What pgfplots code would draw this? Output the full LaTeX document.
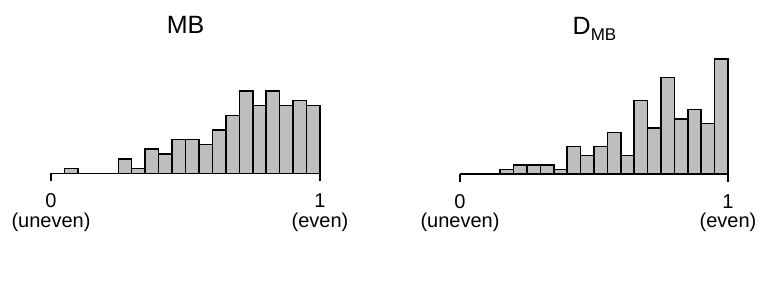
\documentclass[border=0pt]{standalone}
\usepackage{fontspec}
\setmainfont{Liberation Sans}
\usepackage{pgfplots}
\pgfplotsset{compat=1.18}
\definecolor{rgray}{RGB}{190,190,190}
\pgfplotsset{hist/.style={
  scale only axis, xmin=0, xmax=1, ymin=0, enlargelimits=false, clip=false,
  axis x line=bottom, axis y line=none,
  x axis line style={-, line width=1.6bp, black},
  xtick={0,1}, tick align=outside, major tick length=8bp,
  xtick style={line width=1.6bp, black},
  xticklabel style={align=center, font=\fontsize{20bp}{19.5bp}\selectfont, text=black, yshift=-9bp},
  xticklabels={{0\\(uneven)},{1\\(even)}},
  /pgf/number format/assume math mode=true,
}}
\begin{document}
\begin{tikzpicture}
\path[use as bounding box] (0,0) rectangle (768bp,288bp);
\begin{axis}[hist, at={(51bp,114.5bp)}, anchor=south west, width=269bp, height=97bp, ymax=20]
\addplot[ybar interval, fill=rgray, draw=black, line width=1.5bp] coordinates {
(0.00,0) (0.05,1) (0.10,0) (0.15,0) (0.20,0) (0.25,3) (0.30,1) (0.35,5) (0.40,4) (0.45,7)
(0.50,7) (0.55,6) (0.60,9) (0.65,12) (0.70,17) (0.75,14) (0.80,17) (0.85,14) (0.90,15) (0.95,14) (1.00,14)};
\end{axis}
\begin{axis}[hist, at={(460bp,114bp)}, anchor=south west, width=268bp, height=119.6bp, ymax=26]
\addplot[ybar interval, fill=rgray, draw=black, line width=1.5bp] coordinates {
(0.00,0) (0.05,0) (0.10,0) (0.15,1) (0.20,2) (0.25,2) (0.30,2) (0.35,1) (0.40,6) (0.45,4)
(0.50,6) (0.55,9) (0.60,4) (0.65,16) (0.70,10) (0.75,21) (0.80,12) (0.85,14) (0.90,11) (0.95,25) (1.00,25)};
\end{axis}
\node[anchor=base, font=\fontsize{25bp}{25bp}\selectfont] at (185.5bp,254bp) {MB};
\node[anchor=base, font=\fontsize{25bp}{25bp}\selectfont] at (594.5bp,253.3bp) {D\raisebox{-6bp}{\fontsize{17bp}{17bp}\selectfont MB}};
\end{tikzpicture}
\end{document}
